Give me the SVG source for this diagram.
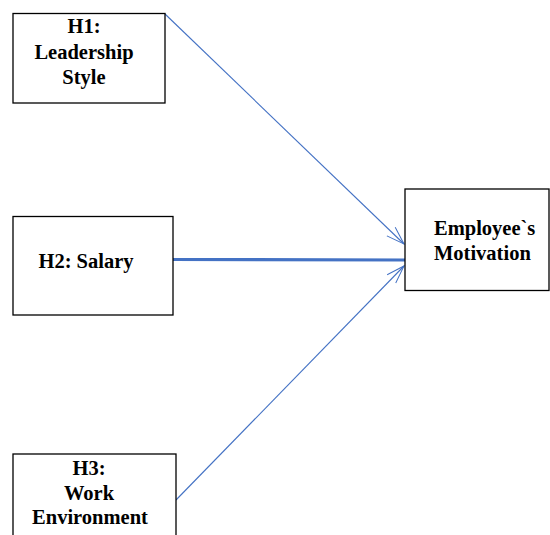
<svg xmlns="http://www.w3.org/2000/svg" width="550" height="535" viewBox="0 0 550 535">
  <style>
    .box { fill: #ffffff; stroke: #000000; stroke-width: 1.3; }
    .link { fill: none; stroke: #4472C4; stroke-width: 1.1; }
    .link-thick { fill: none; stroke: #4472C4; stroke-width: 3.2; }
  </style>
  <defs>
    <marker id="open-arrow" markerUnits="userSpaceOnUse" markerWidth="24" markerHeight="16" refX="20" refY="8" orient="auto">
      <path d="M2,2 L20,8 L2,14" fill="none" stroke="#4472C4" stroke-width="1"/>
    </marker>
  </defs>
  <rect width="550" height="535" fill="#ffffff"/>

  <g id="connectors">
    <line class="link" x1="165" y1="14" x2="404" y2="244" marker-end="url(#open-arrow)"/>
    <line class="link-thick" x1="173" y1="259.5" x2="405" y2="260"/>
    <line class="link" x1="176" y1="500" x2="404" y2="266" marker-end="url(#open-arrow)"/>
  </g>

  <g font-family="Liberation Serif, serif" font-weight="bold" font-size="20.5" fill="#000000">
    <g id="h1">
      <rect class="box" x="13" y="13.5" width="152" height="89.5"/>
      <text text-anchor="middle" x="84" y="33">H1:</text>
      <text text-anchor="middle" x="84" y="59">Leadership</text>
      <text text-anchor="middle" x="84" y="84">Style</text>
    </g>

    <g id="h2">
      <rect class="box" x="13" y="216.5" width="160" height="98.5"/>
      <text text-anchor="middle" x="86" y="268">H2: Salary</text>
    </g>

    <g id="h3">
      <rect class="box" x="13" y="454" width="163" height="90"/>
      <text text-anchor="middle" x="89" y="475">H3:</text>
      <text text-anchor="middle" x="89" y="500">Work</text>
      <text text-anchor="middle" x="90" y="524">Environment</text>
    </g>

    <g id="motivation">
      <rect class="box" x="405" y="189" width="144" height="101.5"/>
      <text x="434" y="235">Employee`s</text>
      <text x="434" y="260">Motivation</text>
    </g>
  </g>
</svg>
